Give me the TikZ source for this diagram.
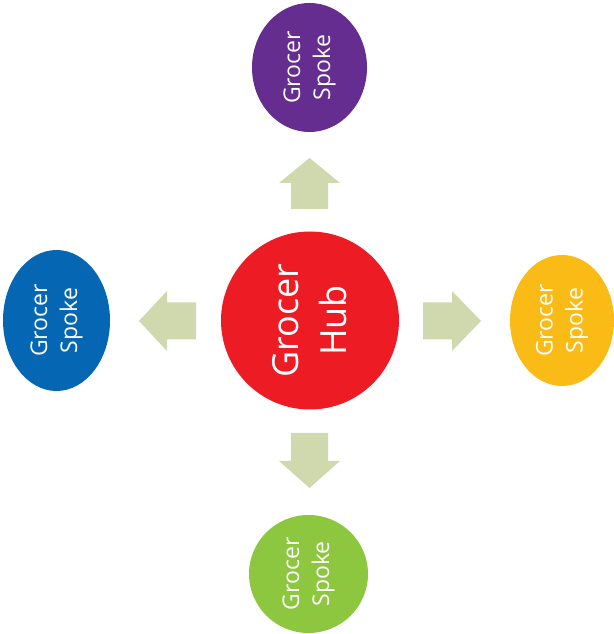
\documentclass[tikz,border=0pt]{standalone}
\usepackage{fontspec}
\setmainfont{Open Sans}
\usetikzlibrary{shapes.geometric}
\definecolor{cpurple}{HTML}{662D91}
\definecolor{cblue}{HTML}{0567B4}
\definecolor{cred}{HTML}{ED1C24}
\definecolor{cyellow}{HTML}{FBBB16}
\definecolor{cgreen}{HTML}{8DC63F}
\definecolor{carrow}{HTML}{CFD9AD}
\tikzset{
  spoke/.style={ellipse, inner sep=0pt, rotate=90, text=white, align=center,
    font=\fontsize{23}{30}\selectfont},
  hub/.style={circle, inner sep=0pt, rotate=90, text=white, align=center,
    font=\fontsize{36}{48}\selectfont, minimum size=178pt},
  blockarrow/.style={fill=carrow}
}
\begin{document}
\begin{tikzpicture}[x=1pt,y=1pt]
\useasboundingbox (0,0) rectangle (613,634);
% nodes
\node[hub, fill=cred] (hub) at (310,313.5) {Grocer\\Hub};
\node[spoke, fill=cpurple, minimum width=129pt, minimum height=115pt] (top) at (309.5,566.5) {Grocer\\Spoke};
\node[spoke, fill=cblue, minimum width=141pt, minimum height=107pt] (left) at (56.5,313.5) {Grocer\\Spoke};
\node[spoke, fill=cyellow, minimum width=131pt, minimum height=104pt] (right) at (562,313.5) {Grocer\\Spoke};
\node[spoke, fill=cgreen, minimum width=118pt, minimum height=119pt] (bottom) at (308.5,60) {Grocer\\Spoke};
% block arrows
\fill[blockarrow] (309.5,476) -- (340,451) -- (328,451) -- (328,425) -- (291,425) -- (291,451) -- (279,451) -- cycle;
\fill[blockarrow] (309.5,146) -- (340,173) -- (328,173) -- (328,201) -- (291,201) -- (291,173) -- (279,173) -- cycle;
\fill[blockarrow] (139,313) -- (167,343) -- (167,331.5) -- (196,331.5) -- (196,294.5) -- (167,294.5) -- (167,283) -- cycle;
\fill[blockarrow] (481,313) -- (452,343) -- (452,331.5) -- (423,331.5) -- (423,294.5) -- (452,294.5) -- (452,283) -- cycle;
\end{tikzpicture}
\end{document}
